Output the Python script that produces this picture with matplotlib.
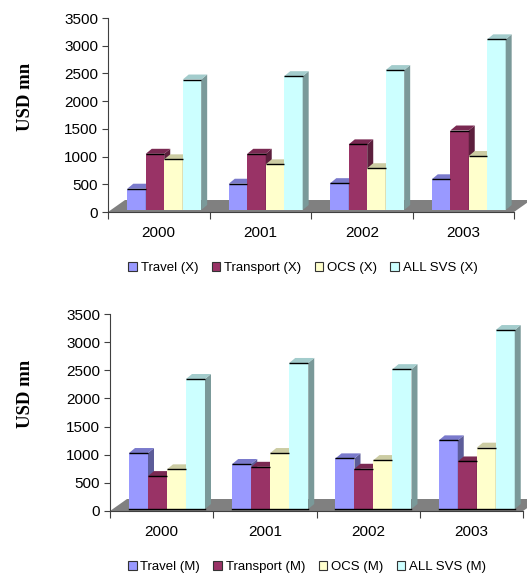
import matplotlib
matplotlib.use("Agg")
import matplotlib.pyplot as plt
from matplotlib.patches import Polygon, Rectangle
import numpy as np

years = ["2000", "2001", "2002", "2003"]
series_x = ["Travel (X)", "Transport (X)", "OCS (X)", "ALL SVS (X)"]
series_m = ["Travel (M)", "Transport (M)", "OCS (M)", "ALL SVS (M)"]

travel_x = [420, 510, 520, 590]
transport_x = [1050, 1050, 1220, 1470]
ocs_x = [950, 860, 790, 1010]
all_x = [2390, 2450, 2560, 3115]

travel_m = [1030, 835, 935, 1255]
transport_m = [620, 785, 750, 880]
ocs_m = [740, 1030, 905, 1125]
all_m = [2345, 2630, 2520, 3215]

front_colors = ["#9999FF", "#993366", "#FFFFCC", "#CCFFFF"]
side_colors = ["#5C5C99", "#5C1F3D", "#99997A", "#7A9999"]
top_colors = ["#7A7ACC", "#7A2952", "#CCCCA3", "#A3CCCC"]

W, H, DPI = 527, 574, 100
fig = plt.figure(figsize=(W / DPI, H / DPI), dpi=DPI)
plt.rcParams["font.family"] = ["Liberation Sans", "DejaVu Sans"]


def px_axes(left, right, y_top, y_zero):
    return fig.add_axes([left / W, 1 - y_zero / H, (right - left) / W, (y_zero - y_top) / H])


def draw_chart(ax, data, labels, bar_left, bar_w, bottom_edge, legend_x, legend_y, label_y):
    ax.set_xlim(-0.5, 3.5)
    ax.set_ylim(0, 3500)
    ax.patch.set_visible(False)
    bbox = ax.get_position()
    ax_w_px = bbox.width * W
    ax_h_px = bbox.height * H
    ux = 4.0 / ax_w_px          # x data units per pixel
    uy = 3500.0 / ax_h_px       # y data units per pixel

    # grey floor
    fdx, fdy = 17 * ux, 12 * uy
    floor = Polygon([(-0.5, 0), (3.5, 0), (3.5 + fdx, fdy), (-0.5 + fdx, fdy)],
                    closed=True, facecolor="#808080", edgecolor="none",
                    clip_on=False, zorder=1)
    ax.add_patch(floor)

    dx, dy = 6 * ux, 5 * uy
    y0 = 2 * uy
    for i in range(len(years)):
        for j, vals in enumerate(data):
            x0 = i + bar_left + j * bar_w
            x1 = x0 + bar_w
            v = vals[i]
            ax.add_patch(Rectangle((x0, y0), bar_w, v - y0, facecolor=front_colors[j],
                                   edgecolor="none", zorder=2 + i * 0.1, clip_on=False))
            ax.add_patch(Polygon([(x1, y0), (x1 + dx, y0 + dy), (x1 + dx, v + dy), (x1, v)],
                                 closed=True, facecolor=side_colors[j], edgecolor="none",
                                 zorder=2 + i * 0.1, clip_on=False))
            ax.add_patch(Polygon([(x0, v), (x1, v), (x1 + dx, v + dy), (x0 + dx, v + dy)],
                                 closed=True, facecolor=top_colors[j], edgecolor="none",
                                 zorder=2 + i * 0.1, clip_on=False))
            ax.plot([x0, x1], [v, v], color="black", lw=1.0, zorder=2.05 + i * 0.1,
                    solid_capstyle="butt", clip_on=False)
        if bottom_edge:
            gx0 = i + bar_left
            gx1 = gx0 + 4 * bar_w
            ax.plot([gx0, gx1], [y0, y0], color="black", lw=1.0, zorder=2.08 + i * 0.1,
                    clip_on=False)

    for s in ["top", "right"]:
        ax.spines[s].set_visible(False)
    ax.spines["left"].set_color("#404040")
    ax.spines["bottom"].set_color("#404040")
    ax.spines["left"].set_zorder(5)
    ax.spines["bottom"].set_zorder(5)
    ax.set_yticks(np.arange(0, 3501, 500))
    ax.set_xticks([-0.5, 0.5, 1.5, 2.5, 3.5], minor=False)
    ax.set_xticklabels([])
    ax.set_xticks([0, 1, 2, 3], minor=True)
    ax.set_xticklabels(years, minor=True)
    ax.tick_params(axis="x", which="minor", length=0, pad=10, labelsize=11)
    ax.tick_params(axis="x", which="major", length=5, direction="out", color="#404040")
    ax.tick_params(axis="y", length=4, direction="out", color="#404040", labelsize=11, pad=3)

    fig.text(25 / W, 1 - label_y / H, "USD mn", rotation=90, ha="center", va="center",
             fontsize=13.5, fontweight="bold", family=["Liberation Serif", "DejaVu Serif"])

    handles = [Rectangle((0, 0), 1, 1, facecolor=c, edgecolor="#333333", lw=0.8)
               for c in front_colors]
    fig.legend(handles, labels, loc="center", bbox_to_anchor=(legend_x / W, 1 - legend_y / H),
               ncol=4, frameon=False, fontsize=9.5, handlelength=0.65, handleheight=0.7,
               handletextpad=0.3, columnspacing=1.0, borderpad=0)


ax1 = px_axes(108, 514, 18, 212)
draw_chart(ax1, [travel_x, transport_x, ocs_x, all_x], series_x,
           bar_left=-0.31, bar_w=0.182, bottom_edge=False, legend_x=303, legend_y=268,
           label_y=97)

ax2 = px_axes(110, 523, 314, 511)
draw_chart(ax2, [travel_m, transport_m, ocs_m, all_m], series_m,
           bar_left=-0.316, bar_w=0.184, bottom_edge=True, legend_x=307, legend_y=567,
           label_y=394)

fig.savefig("out.png", dpi=DPI)
